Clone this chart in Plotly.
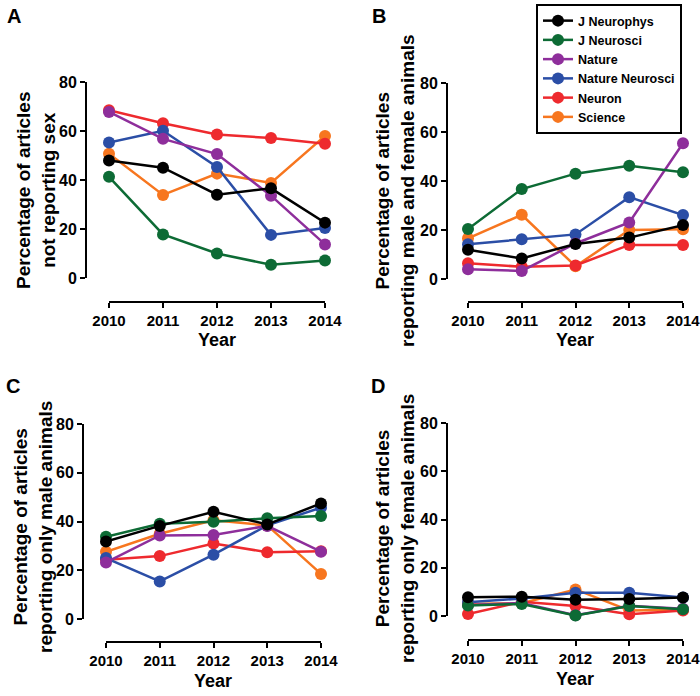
import plotly.graph_objects as go

years = [2010, 2011, 2012, 2013, 2014]
journals = ["J Neurophys", "J Neurosci", "Nature", "Nature Neurosci", "Neuron", "Science"]
colors = ["#000000", "#0d6b35", "#8e2e9b", "#2b4ea6", "#ee2a2e", "#f7761f"]

# Panel A: percentage of articles not reporting sex
not_reporting = {
    "J Neurophys":     [48.0, 45.0, 34.0, 36.6, 22.6],
    "J Neurosci":      [41.3, 17.8, 10.0, 5.4, 7.1],
    "Nature":          [67.8, 56.8, 50.6, 33.6, 13.7],
    "Nature Neurosci": [55.3, 60.1, 45.3, 17.6, 20.4],
    "Neuron":          [68.5, 63.2, 58.6, 57.1, 54.8],
    "Science":         [50.7, 33.9, 42.6, 38.8, 58.0],
}
# Panel B: percentage reporting male and female animals
male_and_female = {
    "J Neurophys":     [11.9, 8.4, 14.3, 16.9, 22.0],
    "J Neurosci":      [20.4, 36.7, 43.0, 46.2, 43.6],
    "Nature":          [4.0, 3.3, 14.5, 23.1, 55.4],
    "Nature Neurosci": [14.2, 16.2, 18.2, 33.4, 26.1],
    "Neuron":          [6.4, 5.0, 5.5, 13.9, 13.9],
    "Science":         [16.6, 26.2, 5.2, 20.0, 20.3],
}
# Panel C: percentage reporting only male animals
only_male = {
    "J Neurophys":     [31.8, 38.2, 44.0, 38.8, 47.4],
    "J Neurosci":      [33.7, 39.1, 39.9, 41.3, 42.3],
    "Nature":          [23.2, 34.3, 34.5, 38.2, 27.6],
    "Nature Neurosci": [25.0, 15.4, 26.4, 38.4, 45.7],
    "Neuron":          [24.3, 25.8, 31.0, 27.4, 27.8],
    "Science":         [27.6, 35.0, 40.5, 38.4, 18.5],
}
# Panel D: percentage reporting only female animals
only_female = {
    "J Neurophys":     [7.8, 8.0, 6.7, 7.0, 7.7],
    "J Neurosci":      [4.4, 5.0, 0.2, 4.1, 2.8],
    "Nature":          [4.6, 5.4, 0.3, 4.2, 3.0],
    "Nature Neurosci": [5.7, 7.3, 9.6, 9.6, 7.7],
    "Neuron":          [0.8, 5.9, 4.1, 0.7, 2.3],
    "Science":         [5.0, 5.3, 11.0, 2.3, 2.6],
}

y_ticks = [0, 20, 40, 60, 80]

W, H = 700, 696
FONT = "Liberation Sans, Arial, Helvetica, sans-serif"

# pixel geometry: (x_left, x_right, y_top, y_bottom, yaxis_x, xaxis_y)
panels = [
    (not_reporting,   (109, 325, 82, 278, 86, 302)),
    (male_and_female, (468, 683, 83, 279, 447, 302)),
    (only_male,       (106, 321, 424, 619, 83, 642)),
    (only_female,     (468, 683, 423, 616, 447, 640)),
]

fig = go.Figure()
layout = {}
for p, (data, (xl, xr, yt, yb, yax, xay)) in enumerate(panels):
    sfx = "" if p == 0 else str(p + 1)
    for j in reversed(range(len(journals))):
        name = journals[j]
        fig.add_trace(go.Scatter(
            x=years, y=data[name], name=name, mode="lines+markers",
            line=dict(color=colors[j], width=2.5),
            marker=dict(color=colors[j], size=12),
            xaxis="x" + sfx, yaxis="y" + sfx,
            showlegend=(p == 0), legendrank=j + 1, cliponaxis=False,
        ))
    layout["xaxis" + sfx] = dict(
        domain=[xl / W, xr / W], range=[years[0], years[-1]],
        anchor="free", position=1 - xay / H, automargin=False,
        tickvals=years, ticktext=[str(y) for y in years],
        ticks="outside", ticklen=5, tickwidth=2, tickcolor="black",
        showline=True, linewidth=2, linecolor="black",
        showgrid=False, zeroline=False, ticklabeloverflow="allow",
        tickfont=dict(family=FONT, size=15, color="black", weight="bold"),
    )
    layout["yaxis" + sfx] = dict(
        domain=[1 - yb / H, 1 - yt / H], range=[0, 80],
        anchor="free", position=yax / W, automargin=False,
        tickvals=y_ticks,
        ticks="outside", ticklen=5, tickwidth=2, tickcolor="black",
        showline=True, linewidth=2, linecolor="black",
        showgrid=False, zeroline=False, ticklabeloverflow="allow",
        tickfont=dict(family=FONT, size=16, color="black", weight="bold"),
    )

fig.update_layout(**layout)

y_titles = [
    ("Percentage of articles<br>not reporting sex", 36, 191),
    ("Percentage of articles<br>reporting male and female animals", 395, 191),
    ("Percentage of articles<br>reporting only male animals", 33, 527),
    ("Percentage of articles<br>reporting only female animals", 395, 529),
]
annotations = []
for text, cx, cy in y_titles:
    annotations.append(dict(
        text=text, x=cx / W, y=1 - cy / H, xref="paper", yref="paper",
        showarrow=False, textangle=-90, xanchor="center", yanchor="middle",
        font=dict(family=FONT, size=19, color="black", weight="bold"),
    ))
for cx, cy in [(217, 340), (575, 340), (213, 681), (575, 679)]:
    annotations.append(dict(
        text="Year", x=cx / W, y=1 - cy / H, xref="paper", yref="paper",
        showarrow=False, xanchor="center", yanchor="middle",
        font=dict(family=FONT, size=18, color="black", weight="bold"),
    ))
for letter, cx, cy in [("A", 14, 16), ("B", 379, 16), ("C", 13, 386), ("D", 378, 386)]:
    annotations.append(dict(
        text=letter, x=cx / W, y=1 - cy / H, xref="paper", yref="paper",
        showarrow=False, xanchor="center", yanchor="middle",
        font=dict(family=FONT, size=20, color="black", weight="bold"),
    ))

fig.update_layout(
    template="none",
    width=W, height=H,
    margin=dict(l=0, r=0, t=0, b=0, pad=0, autoexpand=False),
    paper_bgcolor="white", plot_bgcolor="white",
    annotations=annotations,
    showlegend=True,
    legend=dict(
        x=536 / W, y=1 - 4 / H, xanchor="left", yanchor="top",
        bordercolor="black", borderwidth=2, bgcolor="white",
        font=dict(family=FONT, size=12.5, color="black", weight="bold"),
        tracegroupgap=0,
    ),
)

fig.write_html("out.html", config={"displayModeBar": False},
               post_script="document.body.style.margin='0px';")
